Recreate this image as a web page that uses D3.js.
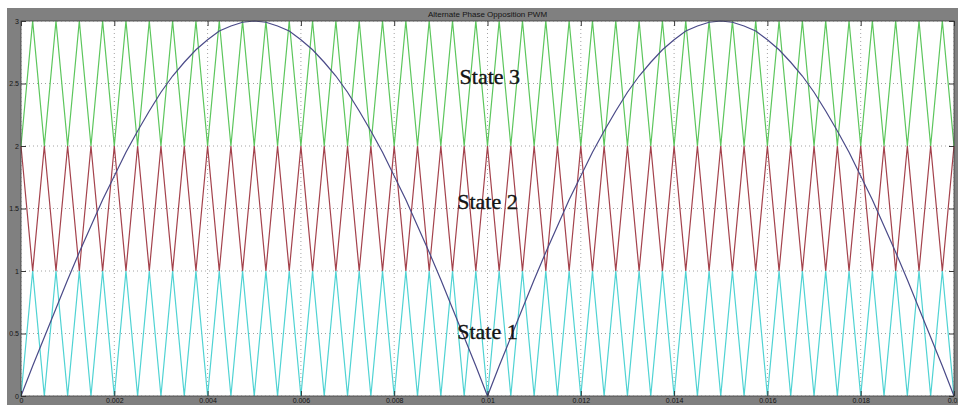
<!DOCTYPE html>
<html>
<head>
<meta charset="utf-8">
<script src="https://cdn.jsdelivr.net/npm/d3@7"></script>
<style>
  body { margin: 0; background: #fff; }
  svg { display: block; }
</style>
</head>
<body>
<div id="chart"></div>
<script>
// time samples (s) shared by the carriers and the reference
var timeS = [
  0, 0.00025, 0.0005, 0.00075, 0.001, 0.00125, 0.0015, 0.00175, 0.002, 0.00225,
  0.0025, 0.00275, 0.003, 0.00325, 0.0035, 0.00375, 0.004, 0.00425, 0.0045, 0.00475,
  0.005, 0.00525, 0.0055, 0.00575, 0.006, 0.00625, 0.0065, 0.00675, 0.007, 0.00725,
  0.0075, 0.00775, 0.008, 0.00825, 0.0085, 0.00875, 0.009, 0.00925, 0.0095, 0.00975,
  0.01, 0.01025, 0.0105, 0.01075, 0.011, 0.01125, 0.0115, 0.01175, 0.012, 0.01225,
  0.0125, 0.01275, 0.013, 0.01325, 0.0135, 0.01375, 0.014, 0.01425, 0.0145, 0.01475,
  0.015, 0.01525, 0.0155, 0.01575, 0.016, 0.01625, 0.0165, 0.01675, 0.017, 0.01725,
  0.0175, 0.01775, 0.018, 0.01825, 0.0185, 0.01875, 0.019, 0.01925, 0.0195, 0.01975,
  0.02
];

// carrier 1 (state 1), 0..1
var carrier1 = [
  0,1,0,1,0,1,0,1,0,1, 0,1,0,1,0,1,0,1,0,1,
  0,1,0,1,0,1,0,1,0,1, 0,1,0,1,0,1,0,1,0,1,
  0,1,0,1,0,1,0,1,0,1, 0,1,0,1,0,1,0,1,0,1,
  0,1,0,1,0,1,0,1,0,1, 0,1,0,1,0,1,0,1,0,1,
  0
];

// carrier 2 (state 2), 1..2, phase opposed
var carrier2 = [
  2,1,2,1,2,1,2,1,2,1, 2,1,2,1,2,1,2,1,2,1,
  2,1,2,1,2,1,2,1,2,1, 2,1,2,1,2,1,2,1,2,1,
  2,1,2,1,2,1,2,1,2,1, 2,1,2,1,2,1,2,1,2,1,
  2,1,2,1,2,1,2,1,2,1, 2,1,2,1,2,1,2,1,2,1,
  2
];

// carrier 3 (state 3), 2..3
var carrier3 = [
  2,3,2,3,2,3,2,3,2,3, 2,3,2,3,2,3,2,3,2,3,
  2,3,2,3,2,3,2,3,2,3, 2,3,2,3,2,3,2,3,2,3,
  2,3,2,3,2,3,2,3,2,3, 2,3,2,3,2,3,2,3,2,3,
  2,3,2,3,2,3,2,3,2,3, 2,3,2,3,2,3,2,3,2,3,
  2
];

// rectified reference wave
var reference = [
  0, 0.24, 0.47, 0.70, 0.93, 1.15, 1.36, 1.57, 1.76, 1.95,
  2.12, 2.28, 2.43, 2.56, 2.67, 2.77, 2.85, 2.92, 2.96, 2.99,
  3.00, 2.99, 2.96, 2.92, 2.85, 2.77, 2.67, 2.56, 2.43, 2.28,
  2.12, 1.95, 1.76, 1.57, 1.36, 1.15, 0.93, 0.70, 0.47, 0.24,
  0, 0.24, 0.47, 0.70, 0.93, 1.15, 1.36, 1.57, 1.76, 1.95,
  2.12, 2.28, 2.43, 2.56, 2.67, 2.77, 2.85, 2.92, 2.96, 2.99,
  3.00, 2.99, 2.96, 2.92, 2.85, 2.77, 2.67, 2.56, 2.43, 2.28,
  2.12, 1.95, 1.76, 1.57, 1.36, 1.15, 0.93, 0.70, 0.47, 0.24,
  0
];

var xTicks = [0, 0.002, 0.004, 0.006, 0.008, 0.01, 0.012, 0.014, 0.016, 0.018, 0.02];
var xTickLabels = ["0", "0.002", "0.004", "0.006", "0.008", "0.01", "0.012", "0.014", "0.016", "0.018", "0.02"];
var yTicks = [0, 0.5, 1, 1.5, 2, 2.5, 3];
var yTickLabels = ["0", "0.5", "1", "1.5", "2", "2.5", "3"];

var stateLabels = ["State 1", "State 2", "State 3"];
var stateLevels = [0.46, 1.5, 2.5];
var stateTimes = [0.01, 0.01, 0.01005];

var title = "Alternate Phase Opposition PWM";

// Define SVG area dimensions
var svgWidth = 958;
var svgHeight = 405;

var chartMargin = { top: 21, right: 4, bottom: 9, left: 21 };
var chartWidth = svgWidth - chartMargin.left - chartMargin.right;
var chartHeight = svgHeight - chartMargin.top - chartMargin.bottom;

var svg = d3.select("#chart")
  .append("svg")
  .attr("width", svgWidth)
  .attr("height", svgHeight);

// figure background (grey frame like the scope window)
svg.append("rect")
  .attr("x", 7).attr("y", 8)
  .attr("width", svgWidth - 7).attr("height", svgHeight - 8)
  .attr("fill", "#808080");

svg.append("text")
  .attr("x", chartMargin.left + chartWidth / 2)
  .attr("y", 17)
  .attr("text-anchor", "middle")
  .style("font-family", "Liberation Sans, Arial, sans-serif")
  .style("font-size", "8px")
  .attr("fill", "#151515")
  .text(title);

var chartGroup = svg.append("g")
  .attr("transform", `translate(${chartMargin.left}, ${chartMargin.top})`);

chartGroup.append("rect")
  .attr("width", chartWidth)
  .attr("height", chartHeight)
  .attr("fill", "#ffffff");

var xScale = d3.scaleLinear().domain([0, 0.02]).range([0, chartWidth]);
var yScale = d3.scaleLinear().domain([0, 3]).range([chartHeight, 0]);

// dotted grid
chartGroup.append("g")
  .selectAll("line")
  .data(xTicks)
  .enter()
  .append("line")
  .attr("x1", d => xScale(d)).attr("x2", d => xScale(d))
  .attr("y1", 0).attr("y2", chartHeight)
  .attr("stroke", "#8c8c8c")
  .attr("stroke-width", 0.8)
  .attr("stroke-dasharray", "1,3");

chartGroup.append("g")
  .selectAll("line")
  .data(yTicks)
  .enter()
  .append("line")
  .attr("x1", 0).attr("x2", chartWidth)
  .attr("y1", d => yScale(d)).attr("y2", d => yScale(d))
  .attr("stroke", "#8c8c8c")
  .attr("stroke-width", 0.8)
  .attr("stroke-dasharray", "1,3");

// waveforms
var line = d3.line()
  .x((d, i) => xScale(timeS[i]))
  .y(d => yScale(d));

var series = [
  { values: carrier3, color: "#5cc65c" },
  { values: carrier2, color: "#a4424c" },
  { values: carrier1, color: "#4fd3d3" },
  { values: reference, color: "#4a4a88" }
];

series.forEach(function(s) {
  chartGroup.append("path")
    .datum(s.values)
    .attr("d", line)
    .attr("fill", "none")
    .attr("stroke", s.color)
    .attr("stroke-width", 1.2);
});

// state labels
chartGroup.selectAll(".state")
  .data(stateLabels)
  .enter()
  .append("text")
  .attr("class", "state")
  .attr("x", (d, i) => xScale(stateTimes[i]))
  .attr("y", (d, i) => yScale(stateLevels[i]))
  .attr("text-anchor", "middle")
  .style("font-family", "Liberation Serif, Times New Roman, serif")
  .style("font-size", "22px")
  .attr("fill", "#141414")
  .attr("stroke", "#141414")
  .attr("stroke-width", 0.35)
  .text(d => d);

// axes, MATLAB style ticks pointing inwards
var axisFont = "Liberation Sans, Arial, sans-serif";

var bottomAxis = d3.axisBottom(xScale)
  .tickValues(xTicks)
  .tickSize(-5)
  .tickPadding(2)
  .tickFormat((d, i) => xTickLabels[i]);

var leftAxis = d3.axisLeft(yScale)
  .tickValues(yTicks)
  .tickSize(-5)
  .tickPadding(2)
  .tickFormat((d, i) => yTickLabels[i]);

chartGroup.append("g")
  .attr("transform", `translate(0, ${chartHeight})`)
  .call(bottomAxis);

chartGroup.append("g")
  .call(leftAxis);

chartGroup.append("g")
  .call(d3.axisTop(xScale).tickValues(xTicks).tickSize(-5).tickFormat(""));

chartGroup.append("g")
  .attr("transform", `translate(${chartWidth}, 0)`)
  .call(d3.axisRight(yScale).tickValues(yTicks).tickSize(-5).tickFormat(""));

chartGroup.selectAll(".domain").remove();
chartGroup.selectAll(".tick line").attr("stroke", "#222").attr("stroke-width", 0.9);
chartGroup.selectAll(".tick text")
  .style("font-family", axisFont)
  .style("font-size", "7px")
  .attr("fill", "#151515");

chartGroup.append("rect")
  .attr("width", chartWidth)
  .attr("height", chartHeight)
  .attr("fill", "none")
  .attr("stroke", "#3a3a3a")
  .attr("stroke-width", 0.8);
</script>
</body>
</html>
